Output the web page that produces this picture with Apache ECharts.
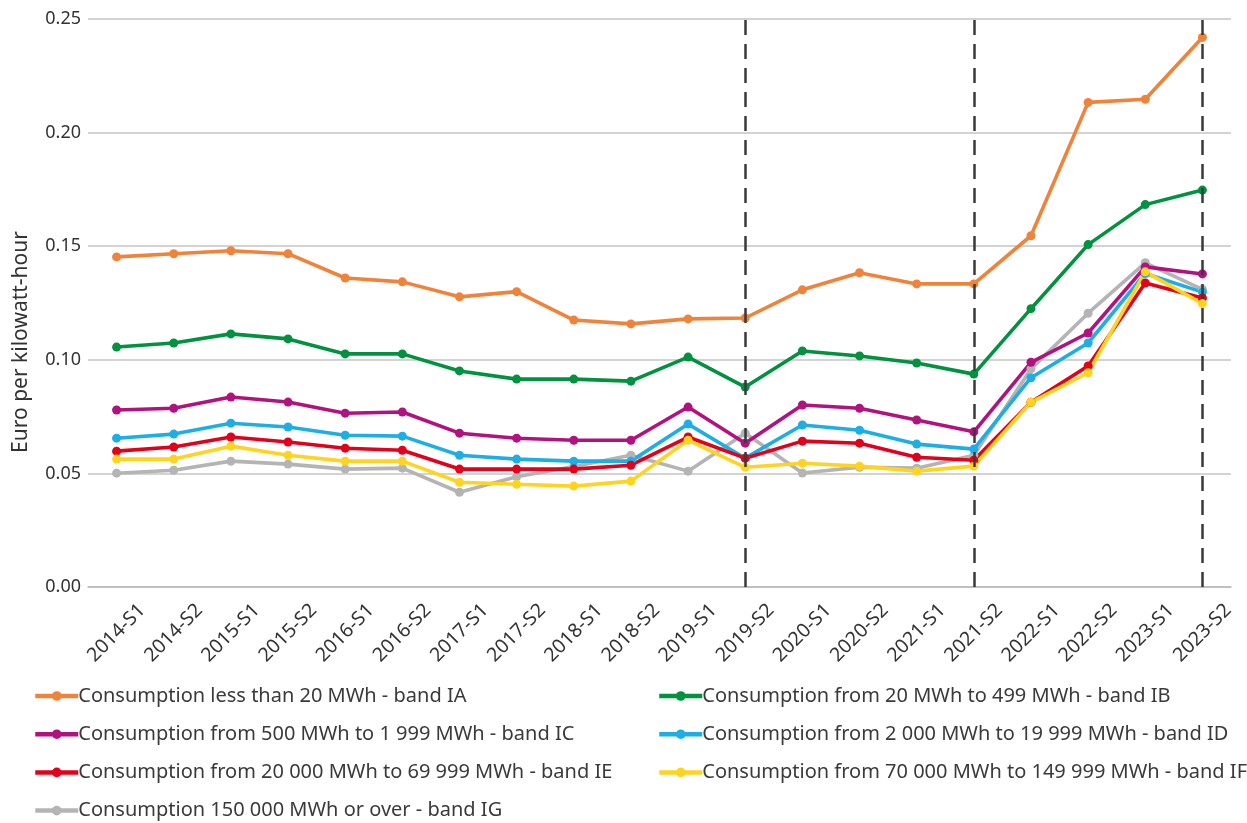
<!DOCTYPE html>
<html><head><meta charset="utf-8">
<script src="https://cdn.jsdelivr.net/npm/echarts@6/dist/echarts.min.js"></script>
<style>html,body{margin:0;padding:0;background:#fff}#c{width:1247px;height:823px}</style>
</head><body><div id="c"></div>
<script>
const categories = ['2014-S1','2014-S2','2015-S1','2015-S2','2016-S1','2016-S2','2017-S1','2017-S2','2018-S1','2018-S2','2019-S1','2019-S2','2020-S1','2020-S2','2021-S1','2021-S2','2022-S1','2022-S2','2023-S1','2023-S2'];
const yTicks = [0, 0.05, 0.10, 0.15, 0.20, 0.25];
const bandIA = [0.1453,0.1467,0.1480,0.1467,0.1360,0.1343,0.1277,0.1300,0.1175,0.1158,0.1180,0.1184,0.1308,0.1383,0.1334,0.1334,0.1546,0.2133,0.2147,0.2419];
const bandIB = [0.1056,0.1074,0.1114,0.1092,0.1026,0.1026,0.0951,0.0915,0.0915,0.0906,0.1012,0.0880,0.1039,0.1017,0.0986,0.0937,0.1225,0.1507,0.1683,0.1747];
const bandIC = [0.0779,0.0787,0.0836,0.0814,0.0765,0.0770,0.0677,0.0655,0.0646,0.0646,0.0792,0.0633,0.0801,0.0787,0.0735,0.0683,0.0989,0.1118,0.1409,0.1378];
const bandID = [0.0655,0.0673,0.0721,0.0704,0.0668,0.0664,0.0580,0.0563,0.0554,0.0554,0.0717,0.0567,0.0713,0.0690,0.0629,0.0607,0.0921,0.1074,0.1380,0.1298];
const bandIE = [0.0598,0.0616,0.0660,0.0638,0.0611,0.0602,0.0519,0.0519,0.0519,0.0536,0.0660,0.0567,0.0642,0.0633,0.0571,0.0558,0.0813,0.0973,0.1338,0.1272];
const bandIF = [0.0563,0.0563,0.0620,0.0580,0.0554,0.0554,0.0461,0.0452,0.0444,0.0466,0.0646,0.0527,0.0545,0.0532,0.0510,0.0532,0.0813,0.0943,0.1387,0.1247];
const bandIG = [0.0501,0.0514,0.0554,0.0541,0.0519,0.0523,0.0417,0.0485,0.0530,0.0580,0.0510,0.0677,0.0502,0.0527,0.0523,0.0580,0.0960,0.1205,0.1427,0.1310];
const markerCategories = ['2019-S2','2021-S2','2023-S2'];
const names = {
  IA:'Consumption less than 20 MWh - band IA',
  IB:'Consumption from 20 MWh to 499 MWh - band IB',
  IC:'Consumption from 500 MWh to 1 999 MWh - band IC',
  ID:'Consumption from 2 000 MWh to 19 999 MWh - band ID',
  IE:'Consumption from 20 000 MWh to 69 999 MWh - band IE',
  IF:'Consumption from 70 000 MWh to 149 999 MWh - band IF',
  IG:'Consumption 150 000 MWh or over - band IG'
};
const colors = {IA:'#F0833A',IB:'#00923F',IC:'#B2127F',ID:'#1DAEE6',IE:'#E2001A',IF:'#FFD421',IG:'#B4B4B4'};
const FONT = 'Noto Sans';
function mk(key, data, extra){
  return Object.assign({
    name:names[key], type:'line', data:data, color:colors[key],
    symbol:'circle', symbolSize:9, showSymbol:true,
    lineStyle:{width:3.6, color:colors[key]}, itemStyle:{color:colors[key]},
    emphasis:{disabled:true}, animation:false
  }, extra||{});
}
const series = [
  mk('IG', bandIG, {markLine:{silent:true, symbol:'none', label:{show:false},
     lineStyle:{color:'#3a3a3a', type:[15,9], width:2.5}, data: markerCategories.map(c=>({xAxis:c}))}}),
  mk('IA', bandIA), mk('IB', bandIB), mk('IC', bandIC), mk('ID', bandID), mk('IE', bandIE), mk('IF', bandIF)
];
const legendCommon = {orient:'vertical', padding:0, itemWidth:43, itemHeight:12, itemGap:18.2,
  lineStyle:{width:4.5}, itemStyle:{borderWidth:0},
  textStyle:{fontFamily:FONT, fontSize:20, color:'#3a3a3a', padding:[0,0,0,-5]}, selectedMode:false};
const chart = echarts.init(document.getElementById('c'), null, {renderer:'canvas'});
chart.setOption({
  animation:false,
  backgroundColor:'#fff',
  grid:{left:88, right:16, top:19, bottom:236},
  legend:[
    Object.assign({left:33, top:686, data:[names.IA,names.IC,names.IE,names.IG]}, legendCommon),
    Object.assign({left:657, top:686, data:[names.IB,names.ID,names.IF]}, legendCommon)
  ],
  xAxis:{type:'category', data:categories, boundaryGap:true,
    axisLine:{lineStyle:{color:'#b9b9b9', width:1.5}}, axisTick:{show:false},
    axisLabel:{rotate:45, interval:0, fontFamily:FONT, fontSize:19.5, color:'#333', margin:46,
      align:'center', verticalAlign:'middle'}},
  yAxis:{type:'value', min:yTicks[0], max:yTicks[yTicks.length-1], interval:0.05,
    name:'Euro per kilowatt-hour', nameLocation:'middle', nameGap:56, nameRotate:90,
    nameTextStyle:{fontFamily:FONT, fontSize:21, color:'#333', padding:[0,78,0,0]},
    axisLine:{show:false}, axisTick:{show:false},
    splitLine:{lineStyle:{color:'#c4c4c4', width:1.5}},
    axisLabel:{fontFamily:FONT, fontSize:18, color:'#333', margin:7, formatter:v=>v.toFixed(2)}},
  series:series
});
</script></body></html>
